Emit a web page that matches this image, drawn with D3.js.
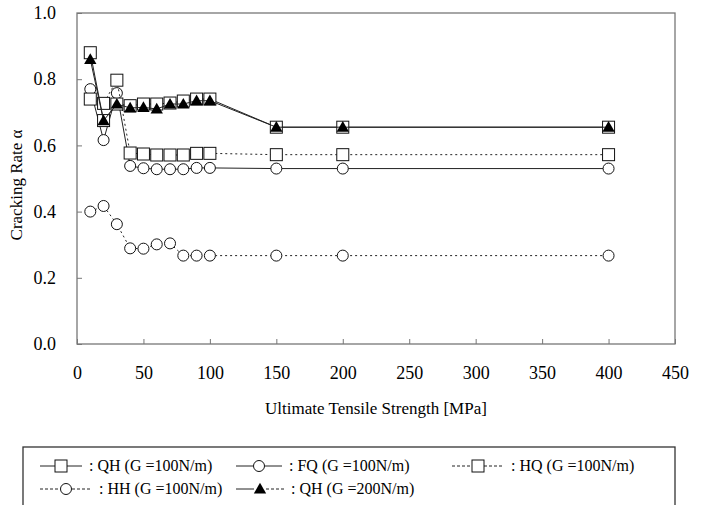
<!DOCTYPE html>
<html>
<head>
<meta charset="utf-8">
<script src="https://cdn.jsdelivr.net/npm/d3@7"></script>
<style>
  body { margin: 0; background: #fff; }
  svg text { font-family: 'Liberation Serif', 'Times New Roman', Times, 'DejaVu Serif', serif !important; fill: #000; }
</style>
</head>
<body>
<script>
// tensile strength values (MPa)
const strength = [10, 20, 30, 40, 50, 60, 70, 80, 90, 100, 150, 200, 400];

// cracking rate per series
const qh100 = [0.88, 0.675, 0.725, 0.72, 0.725, 0.725, 0.728, 0.734, 0.74, 0.74, 0.655, 0.655, 0.655];
const fq100 = [0.77, 0.616, 0.758, 0.538, 0.531, 0.528, 0.528, 0.528, 0.532, 0.532, 0.53, 0.53, 0.53];
const hq100 = [0.74, 0.727, 0.797, 0.577, 0.574, 0.571, 0.571, 0.571, 0.576, 0.576, 0.572, 0.572, 0.572];
const hh100 = [0.40, 0.417, 0.362, 0.289, 0.288, 0.301, 0.304, 0.267, 0.267, 0.267, 0.267, 0.267, 0.267];
const qh200 = [0.86, 0.675, 0.725, 0.713, 0.715, 0.71, 0.725, 0.725, 0.735, 0.735, 0.655, 0.655, 0.655];

const xTicks = [0, 50, 100, 150, 200, 250, 300, 350, 400, 450];
const yTicks = [0, 0.2, 0.4, 0.6, 0.8, 1.0];

const legendLabels = [
  ': QH (G =100N/m)', ': FQ (G =100N/m)', ': HQ (G =100N/m)',
  ': HH (G =100N/m)', ': QH (G =200N/m)'
];

const W = 705, H = 505;
const plot = { left: 77, right: 675, top: 13, bottom: 344 };

const svg = d3.select('body').append('svg')
  .attr('width', W)
  .attr('height', H);

const x = d3.scaleLinear().domain([0, 450]).range([plot.left, plot.right]);
const y = d3.scaleLinear().domain([0, 1]).range([plot.bottom, plot.top]);

// frame
svg.append('rect')
  .attr('x', plot.left).attr('y', plot.top)
  .attr('width', plot.right - plot.left)
  .attr('height', plot.bottom - plot.top)
  .attr('fill', 'none')
  .attr('stroke', '#777')
  .attr('stroke-width', 1.3);

// axes
const yAxis = d3.axisLeft(y)
  .tickValues(yTicks)
  .tickFormat(d3.format('.1f'))
  .tickSizeInner(-5).tickSizeOuter(0).tickPadding(21);
const gy = svg.append('g')
  .attr('transform', `translate(${plot.left},0)`)
  .call(yAxis);

const xAxis = d3.axisBottom(x)
  .tickValues(xTicks)
  .tickSizeInner(-5).tickSizeOuter(0).tickPadding(22);
const gx = svg.append('g')
  .attr('transform', `translate(0,${plot.bottom})`)
  .call(xAxis);

[gx, gy].forEach(g => {
  g.attr('font-family', null).attr('font-size', null);
  g.select('.domain').remove();
  g.selectAll('line').attr('stroke', '#777');
  g.selectAll('text')
    .style('font-size', '18px')
    .attr('fill', '#000');
});

// axis titles
svg.append('text')
  .attr('x', 376)
  .attr('y', 414)
  .attr('text-anchor', 'middle')
  .style('font-size', '17px')
  .text('Ultimate Tensile Strength [MPa]');

svg.append('text')
  .attr('transform', `translate(22,185) rotate(-90)`)
  .attr('text-anchor', 'middle')
  .style('font-size', '17px')
  .text('Cracking Rate α');

// series
const series = [
  { values: hh100, marker: 'circle', dash: '2,3' },
  { values: fq100, marker: 'circle', dash: null },
  { values: hq100, marker: 'square', dash: '2,3' },
  { values: qh100, marker: 'square', dash: null },
  { values: qh200, marker: 'triangle', dash: null }
];

const line = d3.line()
  .x(d => x(d[0]))
  .y(d => y(d[1]));

function drawMarker(g, type, cx, cy) {
  if (type === 'circle') {
    g.append('circle')
      .attr('cx', cx).attr('cy', cy).attr('r', 5.5)
      .attr('fill', '#fff').attr('stroke', '#111').attr('stroke-width', 1);
  } else if (type === 'square') {
    g.append('rect')
      .attr('x', cx - 6).attr('y', cy - 6)
      .attr('width', 12).attr('height', 12)
      .attr('fill', '#fff').attr('stroke', '#111').attr('stroke-width', 1);
  } else {
    g.append('path')
      .attr('d', d3.symbol().type(d3.symbolTriangle).size(66)())
      .attr('transform', `translate(${cx},${cy + 1})`)
      .attr('fill', '#000');
  }
}

series.forEach(s => {
  const pts = strength.map((v, i) => [v, s.values[i]]);
  const g = svg.append('g');
  g.append('path')
    .datum(pts)
    .attr('d', line)
    .attr('fill', 'none')
    .attr('stroke', '#222')
    .attr('stroke-width', 1)
    .attr('stroke-dasharray', s.dash);
  pts.forEach(p => drawMarker(g, s.marker, x(p[0]), y(p[1])));
});

// legend
svg.append('rect')
  .attr('x', 23).attr('y', 447)
  .attr('width', 652).attr('height', 70)
  .attr('fill', 'none')
  .attr('stroke', '#333')
  .attr('stroke-width', 1.3);

const legendItems = [
  { x0: 40, w: 42, row: 0, marker: 'square', left: null, right: null },
  { x0: 236, w: 46, row: 0, marker: 'circle', left: null, right: null },
  { x0: 452, w: 52, row: 0, marker: 'square', left: '3,2', right: '3,2' },
  { x0: 40, w: 52, row: 1, marker: 'circle', left: '3,2', right: '3,2' },
  { x0: 236, w: 48, row: 1, marker: 'triangle', left: null, right: '3,2' }
];
const rowY = [466, 489];

legendItems.forEach((it, i) => {
  const g = svg.append('g');
  const x0 = it.x0, cy = rowY[it.row];
  const mid = x0 + it.w / 2;
  g.append('line')
    .attr('x1', x0).attr('x2', mid - 6).attr('y1', cy).attr('y2', cy)
    .attr('stroke', '#222').attr('stroke-dasharray', it.left);
  g.append('line')
    .attr('x1', mid + 6).attr('x2', x0 + it.w).attr('y1', cy).attr('y2', cy)
    .attr('stroke', '#222').attr('stroke-dasharray', it.right);
  drawMarker(g, it.marker, mid, cy);
  g.append('text')
    .attr('x', x0 + it.w + 7)
    .attr('y', cy + 5)
    .style('font-size', '16px')
    .text(legendLabels[i]);
});
</script>
</body>
</html>
